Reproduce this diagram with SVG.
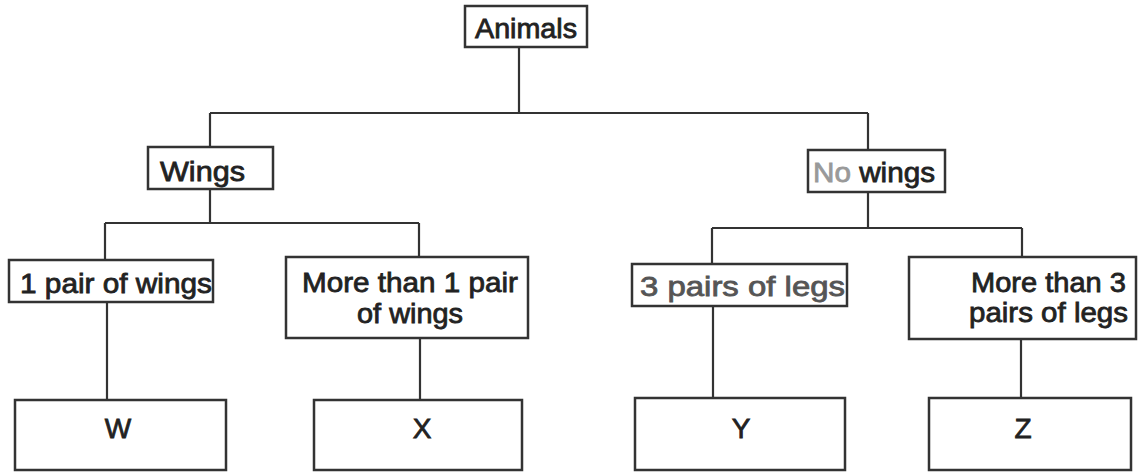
<svg xmlns="http://www.w3.org/2000/svg" width="1141" height="473" viewBox="0 0 1141 473">
<style>
.box{fill:#fff;stroke:#333;stroke-width:2.5}
.ln{fill:none;stroke:#333;stroke-width:2.2}
text{font-family:"Liberation Sans",Arial,sans-serif;font-size:28px;fill:#222;stroke:#222;stroke-width:0.8}
.c{text-anchor:middle}
.faint{fill:#999;stroke:#999}
.mid{fill:#555;stroke:#555}
</style>
<rect width="1141" height="473" fill="#fff"/>
<g id="connectors">
<path class="ln" d="M519,47 V113 M210,113 H868 M210,113 V147 M868,113 V150"/>
<path class="ln" d="M210,189 V223 M105,223 H419 M105,223 V260 M419,223 V257 M107,302 V400 M420,338 V400"/>
<path class="ln" d="M868,192 V228 M712,228 H1022 M712,228 V264 M1022,228 V257 M713,306 V398 M1021,339 V398"/>
</g>
<g id="animals"><rect class="box" x="465" y="6" width="122" height="41"/><text x="475" y="38" textLength="102" lengthAdjust="spacingAndGlyphs">Animals</text></g>
<g id="wings"><rect class="box" x="148" y="147" width="125" height="42"/><text x="160" y="181" textLength="85" lengthAdjust="spacingAndGlyphs">Wings</text></g>
<g id="no-wings"><rect class="box" x="808" y="150" width="137" height="42"/><text x="813" y="182" textLength="122" lengthAdjust="spacingAndGlyphs"><tspan class="faint">No</tspan> wings</text></g>
<g id="one-pair"><rect class="box" x="9" y="260" width="204" height="42"/><text x="20" y="293" textLength="192" lengthAdjust="spacingAndGlyphs">1 pair of wings</text></g>
<g id="more-than-1"><rect class="box" x="286" y="257" width="242" height="81"/><text x="302" y="292" textLength="216" lengthAdjust="spacingAndGlyphs">More than 1 pair</text><text x="357" y="323" textLength="106" lengthAdjust="spacingAndGlyphs">of wings</text></g>
<g id="three-pairs"><rect class="box" x="632" y="264" width="215" height="42"/><text class="mid" x="640" y="296" textLength="205" lengthAdjust="spacingAndGlyphs">3 pairs of legs</text></g>
<g id="more-than-3"><rect class="box" x="909" y="257" width="227" height="82"/><text x="971" y="292" textLength="155" lengthAdjust="spacingAndGlyphs">More than 3</text><text x="969" y="322" textLength="159" lengthAdjust="spacingAndGlyphs">pairs of legs</text></g>
<g id="w"><rect class="box" x="15" y="400" width="211" height="70"/><text class="c" x="118" y="438">W</text></g>
<g id="x"><rect class="box" x="314" y="400" width="208" height="70"/><text class="c" x="422" y="438">X</text></g>
<g id="y"><rect class="box" x="635" y="398" width="210" height="72"/><text class="c" x="741" y="438">Y</text></g>
<g id="z"><rect class="box" x="929" y="398" width="202" height="72"/><text class="c" x="1023" y="438">Z</text></g>
</svg>
